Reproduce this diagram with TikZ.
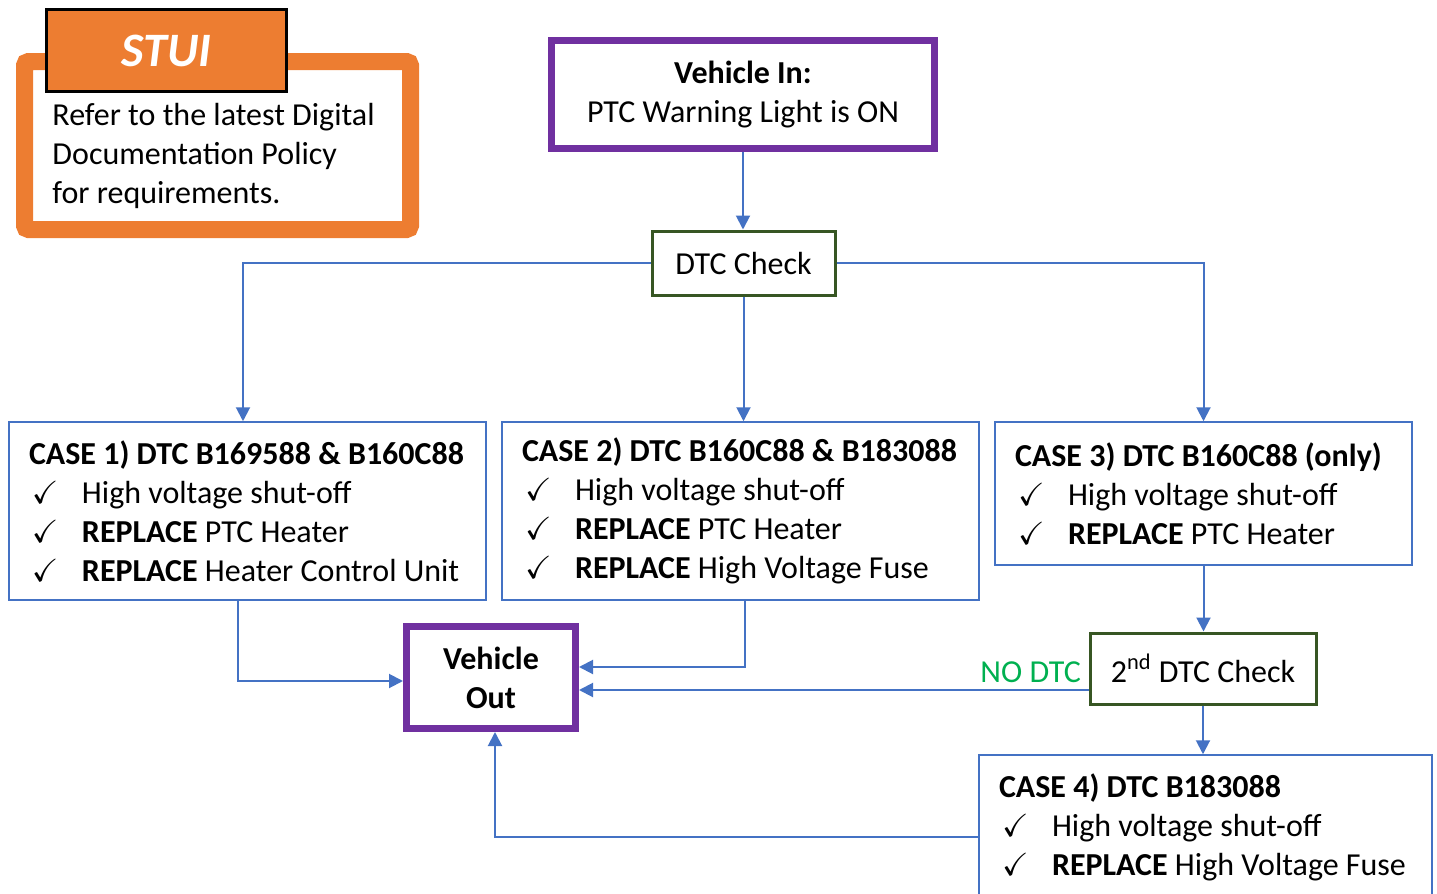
\documentclass[tikz,border=0pt]{standalone}
\usepackage{fontspec}
\setmainfont{Carlito}
\usepackage{amssymb}
\usetikzlibrary{arrows.meta}

\definecolor{stuiorange}{HTML}{ED7D31}
\definecolor{vpurple}{HTML}{7030A0}
\definecolor{chkgreen}{HTML}{375623}
\definecolor{lineblue}{HTML}{4472C4}
\definecolor{nogreen}{HTML}{00B050}

\newcommand{\ckitem}{\makebox[26.5pt][l]{\hspace{1.5pt}$\checkmark$}}

\tikzset{
  vehbox/.style={draw=vpurple, line width=3.5pt, align=center},
  chkbox/.style={draw=chkgreen, line width=1.5pt},
  casebox/.style={draw=lineblue, line width=.75pt, align=flush left, inner xsep=10pt, inner ysep=0pt},
  flow/.style={draw=lineblue, line width=1pt, -{Triangle[width=7pt, length=7pt]}}
}

\begin{document}
\begin{tikzpicture}[x=0.5pt, y=-0.5pt, font=\fontsize{16pt}{19.5pt}\selectfont]
  \clip (0, 0) rectangle (1437, 894);

  %%stui
  \node[draw=stuiorange, line width=8.5pt, rounded corners=2pt, text width=165pt, align=flush left,
        inner xsep=14pt, inner ysep=0pt, text height=32.25pt, text depth=51.75pt]
    (stuiframe) at (217.5, 145.5) {Refer to the latest Digital\\Documentation Policy\\for requirements.};
  \node[fill=stuiorange, draw=black, line width=1.5pt, minimum width=120pt, minimum height=41pt,
        text=white, font=\fontsize{24pt}{28pt}\selectfont\bfseries\itshape]
    (stui) at (166.5, 50.5) {STUI};

  %%top
  \node[vehbox, minimum width=191.5pt, minimum height=54pt] (vin) at (743, 94.5)
    {\textbf{Vehicle In:}\\PTC Warning Light is ON};
  \node[chkbox, minimum width=91.5pt, minimum height=32pt] (dtc) at (743.5, 263) {DTC Check};

  %%cases
  \node[casebox, text width=218.5pt, minimum height=89pt] (case1) at (247.5, 511)
    {\textbf{CASE 1) DTC B169588 \& B160C88}\\
     \ckitem High voltage shut-off\\
     \ckitem \textbf{REPLACE} PTC Heater\\
     \ckitem \textbf{REPLACE} Heater Control Unit};
  \node[casebox, text width=218.5pt, minimum height=89pt] (case2) at (740.5, 511)
    {\textbf{CASE 2) DTC B160C88 \& B183088}\\
     \ckitem High voltage shut-off\\
     \ckitem \textbf{REPLACE} PTC Heater\\
     \ckitem \textbf{REPLACE} High Voltage Fuse};
  \node[casebox, text width=188.5pt, minimum height=71.5pt] (case3) at (1203.5, 493.5)
    {\textbf{CASE 3) DTC B160C88 (only)}\\
     \ckitem High voltage shut-off\\
     \ckitem \textbf{REPLACE} PTC Heater};

  %%bottom
  \node[vehbox, minimum width=84.5pt, minimum height=51pt] (vout) at (491, 677.5)
    {\textbf{Vehicle}\\\textbf{Out}};
  \node[chkbox, minimum width=113pt, minimum height=35.5pt] (dtc2) at (1203, 668.5)
    {2\textsuperscript{nd} DTC Check};
  \node[casebox, text width=206.5pt, minimum height=72pt] (case4) at (1205.5, 827)
    {\textbf{CASE 4) DTC B183088}\\
     \ckitem High voltage shut-off\\
     \ckitem \textbf{REPLACE} High Voltage Fuse};

  %%arrows
  \draw[flow] (vin.south) to (vin.south |- dtc.north);
  \draw[flow] (dtc.west) -| ([xshift=-2.25pt]case1.north);
  \draw[flow] (dtc.south) to (dtc.south |- case2.north);
  \draw[flow] (dtc.east) -| (case3.north);
  \draw[flow] (case3.south) to (case3.south |- dtc2.north);
  \draw[flow] (dtc2.south) to (dtc2.south |- case4.north);

  \draw[flow] ([xshift=-4.75pt]case1.south) |- ([yshift=-1.75pt]vout.west);
  \draw[flow] ([xshift=2.25pt]case2.south) |- ([yshift=5.25pt]vout.east);
  \coordinate (nodtc) at ([yshift=-6.25pt]vout.east);
  \draw[flow] (dtc2.west |- nodtc)
    to node[pos=0, anchor=south east, text=nogreen] (nodtclabel) {NO DTC} (nodtc);
  \draw[flow] ([yshift=-5pt]case4.west) -| ([xshift=2pt]vout.south);

\end{tikzpicture}
\end{document}
